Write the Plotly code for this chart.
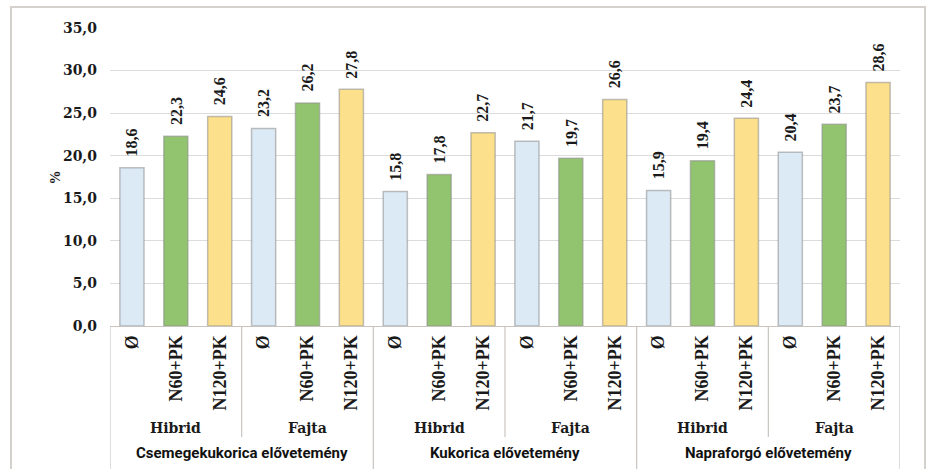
import plotly.graph_objects as go

# Values (%) per previous crop, variety type and fertiliser treatment
previous_crops = ["Csemegekukorica elővetemény", "Kukorica elővetemény", "Napraforgó elővetemény"]
variety_types = ["Hibrid", "Fajta"]
treatments = ["Ø", "N60+PK", "N120+PK"]

csemegekukorica_hibrid = [18.6, 22.3, 24.6]
csemegekukorica_fajta = [23.2, 26.2, 27.8]
kukorica_hibrid = [15.8, 17.8, 22.7]
kukorica_fajta = [21.7, 19.7, 26.6]
napraforgo_hibrid = [15.9, 19.4, 24.4]
napraforgo_fajta = [20.4, 23.7, 28.6]

y_ticks = [0, 5, 10, 15, 20, 25, 30, 35]

treatment_colors = ["#DCEAF6", "#92C46F", "#FCE08C"]

groups = [
    csemegekukorica_hibrid, csemegekukorica_fajta,
    kukorica_hibrid, kukorica_fajta,
    napraforgo_hibrid, napraforgo_fajta,
]
values = [v for g in groups for v in g]
positions = list(range(len(values)))
labels = treatments * len(groups)
colors = treatment_colors * len(groups)

# Figure geometry (pixels)
W, H = 931, 469
ML, MR, MT, MB = 110, 31, 28, 143
plot_w = W - ML - MR
plot_h = H - MT - MB


def px_x(px):
    return (px - ML) / plot_w


def px_y(py):
    return (H - MB - py) / plot_h


ink = "#1a1a1a"
serif_rot = dict(family="Liberation Serif", size=18, color=ink, weight=700)
serif_wide = dict(family="DejaVu Serif", size=14, color=ink, weight=700)
value_font = dict(family="Liberation Serif", size=16, color=ink, weight=700)
sans = dict(family="Roboto", size=15, color="#111111", weight=700)

fig = go.Figure()
fig.add_trace(go.Bar(
    x=positions,
    y=values,
    marker=dict(color=colors, line=dict(color="rgba(140,140,140,0.55)", width=1.5)),
    hoverinfo="skip",
))

shapes = []
annotations = []

# value labels above each bar, reading upwards
for xv, yv in zip(positions, values):
    annotations.append(dict(
        x=xv, y=yv, xref="x", yref="y",
        text=f"{yv:.1f}".replace(".", ","),
        textangle=-90, showarrow=False, font=value_font,
        xanchor="center", yanchor="bottom", yshift=9,
    ))

n_sub = len(treatments)
n_var = len(variety_types)
# separators between variety types (short) and previous crops (long)
for g in range(len(groups) + 1):
    xb = g * n_sub - 0.5
    full = g % n_var == 0
    shapes.append(dict(
        type="line", xref="x", yref="paper",
        x0=xb, x1=xb, y0=0, y1=px_y(469 if full else 437),
        line=dict(color="#c9c4bf", width=1.2),
    ))

for g in range(len(groups)):
    annotations.append(dict(
        x=g * n_sub + (n_sub - 1) / 2, y=px_y(428), xref="x", yref="paper",
        text=variety_types[g % n_var], showarrow=False,
        font=serif_wide, yanchor="middle", xanchor="center",
    ))

for c, name in enumerate(previous_crops):
    annotations.append(dict(
        x=c * n_sub * n_var + (n_sub * n_var - 1) / 2, y=px_y(453), xref="x", yref="paper",
        text=name, showarrow=False, font=sans, yanchor="middle", xanchor="center",
    ))

annotations.append(dict(
    x=px_x(45), y=px_y(178), xref="paper", yref="paper", text="%",
    textangle=-90, showarrow=False,
    font=dict(family="Liberation Serif", size=14, color=ink, weight=700),
))

# outer frame
shapes.append(dict(
    type="rect", xref="paper", yref="paper",
    x0=px_x(11), x1=px_x(925), y0=px_y(475), y1=px_y(7),
    line=dict(color="#d4d0cc", width=2), layer="below",
))

fig.update_layout(
    width=W, height=H,
    margin=dict(l=ML, r=MR, t=MT, b=MB),
    paper_bgcolor="white", plot_bgcolor="white",
    separators=",.",
    bargap=0.45,
    showlegend=False,
    shapes=shapes,
    annotations=annotations,
    xaxis=dict(
        range=[-0.5, len(values) - 0.5],
        tickmode="array", tickvals=positions, ticktext=labels,
        tickangle=-90, tickfont=serif_rot,
        showgrid=False, zeroline=False,
        showline=True, linecolor="#c9c4bf", linewidth=1.2,
        ticks="", ticklabelstandoff=1,
    ),
    yaxis=dict(
        range=[0, 35], tickvals=y_ticks, tickformat=".1f",
        tickfont=serif_wide,
        showgrid=True, gridcolor="#dcdcdc", gridwidth=1,
        zeroline=False, showline=False, ticks="", ticklabelstandoff=12,
    ),
)

fig.write_html("out.html")
